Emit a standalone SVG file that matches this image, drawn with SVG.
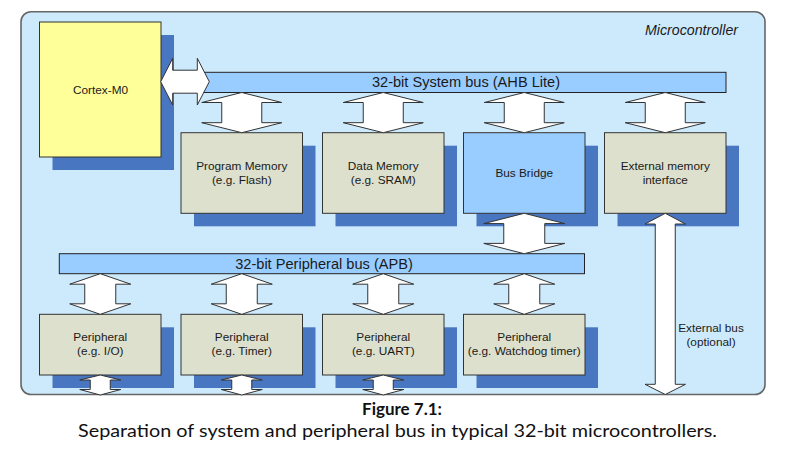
<svg xmlns="http://www.w3.org/2000/svg" width="804" height="469" viewBox="0 0 804 469">
<style>
.t{font-family:"Liberation Sans",Arial,sans-serif;font-size:11.8px;fill:#1a1a1a;text-anchor:middle}
.bt{font-family:"Liberation Sans",Arial,sans-serif;font-size:14.6px;fill:#1a1a1a;text-anchor:middle}
.sh{fill:#4876c0}
.box{stroke:#333;stroke-width:1}
.mem{fill:#dde0cc}
.bus{fill:#99ccff;stroke:#222;stroke-width:1}
.arr{fill:#fff;stroke:#333;stroke-width:1;stroke-linejoin:miter}
.cap{font-family:Lato,"Noto Sans",sans-serif;fill:#111;text-anchor:middle}
</style>
<rect width="804" height="469" fill="#fff"/>
<rect x="21" y="11.7" width="744" height="382.8" rx="10" fill="#cdeafd" stroke="#666" stroke-width="1.6"/>
<text x="738" y="35" font-family="Liberation Sans,Arial,sans-serif" font-size="14.2" font-style="italic" fill="#1a1a1a" text-anchor="end">Microcontroller</text>
<g id="shadows">
<rect class="sh" x="52.5" y="35" width="121.5" height="135"/>
<rect class="sh" x="194" y="145.7" width="121.5" height="80.6"/>
<rect class="sh" x="335.5" y="145.7" width="121.5" height="80.6"/>
<rect class="sh" x="476.5" y="145.7" width="121.5" height="80.6"/>
<rect class="sh" x="617.5" y="145.7" width="121.5" height="80.6"/>
<rect class="sh" x="52.5" y="327.3" width="121.5" height="60.7"/>
<rect class="sh" x="194" y="327.3" width="121.5" height="60.7"/>
<rect class="sh" x="335.5" y="327.3" width="121.5" height="60.7"/>
<rect class="sh" x="476.5" y="327.3" width="121.5" height="60.7"/>
</g>
<g id="system-bus">
<rect class="bus" x="200" y="72.3" width="526" height="20.2"/>
<text class="bt" x="466" y="87">32-bit System bus (AHB Lite)</text>
</g>
<g id="peripheral-bus">
<rect class="bus" x="59.3" y="253.7" width="525.2" height="20"/>
<text class="bt" x="324" y="268.5">32-bit Peripheral bus (APB)</text>
</g>
<g id="cortex-m0">
<rect class="box" x="39.5" y="22" width="121.5" height="135" fill="#ffff99"/>
<text class="t" x="100.5" y="93.5">Cortex-M0</text>
</g>
<g id="program-memory">
<rect class="box mem" x="181" y="132.7" width="121.5" height="80.6"/>
<text class="t" x="241.75" y="170">Program Memory</text>
<text class="t" x="241.75" y="184">(e.g. Flash)</text>
</g>
<g id="data-memory">
<rect class="box mem" x="322.5" y="132.7" width="121.5" height="80.6"/>
<text class="t" x="383.25" y="170">Data Memory</text>
<text class="t" x="383.25" y="184">(e.g. SRAM)</text>
</g>
<g id="bus-bridge">
<rect class="box" x="463.5" y="132.7" width="121.5" height="80.6" fill="#99ccff"/>
<text class="t" x="524.25" y="177">Bus Bridge</text>
</g>
<g id="external-memory">
<rect class="box mem" x="604.5" y="132.7" width="121.5" height="80.6"/>
<text class="t" x="665.25" y="170">External memory</text>
<text class="t" x="665.25" y="184">interface</text>
</g>
<g id="periph-io">
<rect class="box mem" x="39.5" y="314.3" width="121.5" height="60.7"/>
<text class="t" x="100.25" y="341">Peripheral</text>
<text class="t" x="100.25" y="355">(e.g. I/O)</text>
</g>
<g id="periph-timer">
<rect class="box mem" x="181" y="314.3" width="121.5" height="60.7"/>
<text class="t" x="241.75" y="341">Peripheral</text>
<text class="t" x="241.75" y="355">(e.g. Timer)</text>
</g>
<g id="periph-uart">
<rect class="box mem" x="322.5" y="314.3" width="121.5" height="60.7"/>
<text class="t" x="383.25" y="341">Peripheral</text>
<text class="t" x="383.25" y="355">(e.g. UART)</text>
</g>
<g id="periph-watchdog">
<rect class="box mem" x="463.5" y="314.3" width="121.5" height="60.7"/>
<text class="t" x="524.25" y="341">Peripheral</text>
<text class="t" x="524.25" y="355">(e.g. Watchdog timer)</text>
</g>
<g id="connectors">
<!-- Cortex to system bus -->
<path class="arr" d="M160.7,81.7 L172.7,58.3 L172.7,70.2 L197.3,70.2 L197.3,58.3 L209.3,81.7 L197.3,105 L197.3,93.2 L172.7,93.2 L172.7,105 Z"/>
<!-- system bus to row 1 -->
<path class="arr" d="M241.75,92.5 L281.75,102.5 L261.75,102.5 L261.75,122.7 L281.75,122.7 L241.75,132.7 L201.75,122.7 L221.75,122.7 L221.75,102.5 L201.75,102.5 Z"/>
<path class="arr" d="M383.25,92.5 L423.25,102.5 L403.25,102.5 L403.25,122.7 L423.25,122.7 L383.25,132.7 L343.25,122.7 L363.25,122.7 L363.25,102.5 L343.25,102.5 Z"/>
<path class="arr" d="M524.25,92.5 L564.25,102.5 L544.25,102.5 L544.25,122.7 L564.25,122.7 L524.25,132.7 L484.25,122.7 L504.25,122.7 L504.25,102.5 L484.25,102.5 Z"/>
<path class="arr" d="M665.25,92.5 L705.25,102.5 L685.25,102.5 L685.25,122.7 L705.25,122.7 L665.25,132.7 L625.25,122.7 L645.25,122.7 L645.25,102.5 L625.25,102.5 Z"/>
<!-- bridge to peripheral bus -->
<path class="arr" d="M524.25,213.3 L564.75,223.6 L544.75,223.6 L544.75,243.4 L564.75,243.4 L524.25,253.7 L483.75,243.4 L503.75,243.4 L503.75,223.6 L483.75,223.6 Z"/>
<!-- peripheral bus to peripherals -->
<path class="arr" d="M100.25,273.7 L130.75,284.2 L115.75,284.2 L115.75,303.8 L130.75,303.8 L100.25,314.3 L69.75,303.8 L84.75,303.8 L84.75,284.2 L69.75,284.2 Z"/>
<path class="arr" d="M241.75,273.7 L272.25,284.2 L257.25,284.2 L257.25,303.8 L272.25,303.8 L241.75,314.3 L211.25,303.8 L226.25,303.8 L226.25,284.2 L211.25,284.2 Z"/>
<path class="arr" d="M383.25,273.7 L413.75,284.2 L398.75,284.2 L398.75,303.8 L413.75,303.8 L383.25,314.3 L352.75,303.8 L367.75,303.8 L367.75,284.2 L352.75,284.2 Z"/>
<path class="arr" d="M524.25,273.7 L554.75,284.2 L539.75,284.2 L539.75,303.8 L554.75,303.8 L524.25,314.3 L493.75,303.8 L508.75,303.8 L508.75,284.2 L493.75,284.2 Z"/>
<!-- peripheral outputs -->
<path class="arr" d="M100.25,375 L120.75,380 L110.25,380 L110.25,389.5 L120.75,389.5 L100.25,395 L79.75,389.5 L90.25,389.5 L90.25,380 L79.75,380 Z"/>
<path class="arr" d="M241.75,375 L262.25,380 L251.75,380 L251.75,389.5 L262.25,389.5 L241.75,395 L221.25,389.5 L231.75,389.5 L231.75,380 L221.25,380 Z"/>
<path class="arr" d="M383.25,375 L403.75,380 L393.25,380 L393.25,389.5 L403.75,389.5 L383.25,395 L362.75,389.5 L373.25,389.5 L373.25,380 L362.75,380 Z"/>
<!-- external bus -->
<path class="arr" d="M665.25,213.3 L685.5,224 L675.25,224 L675.25,384.3 L685.5,384.3 L665.25,394.5 L645,384.3 L655.25,384.3 L655.25,224 L645,224 Z"/>
</g>
<g id="external-bus-label">
<text class="t" x="711" y="332">External bus</text>
<text class="t" x="711" y="346">(optional)</text>
</g>
<g id="caption">
<text class="cap" x="402" y="415" font-size="17" font-weight="bold">Figure 7.1:</text>
<text class="cap" x="397.5" y="437" font-size="17" textLength="639" lengthAdjust="spacingAndGlyphs">Separation of system and peripheral bus in typical 32-bit microcontrollers.</text>
</g>
</svg>
